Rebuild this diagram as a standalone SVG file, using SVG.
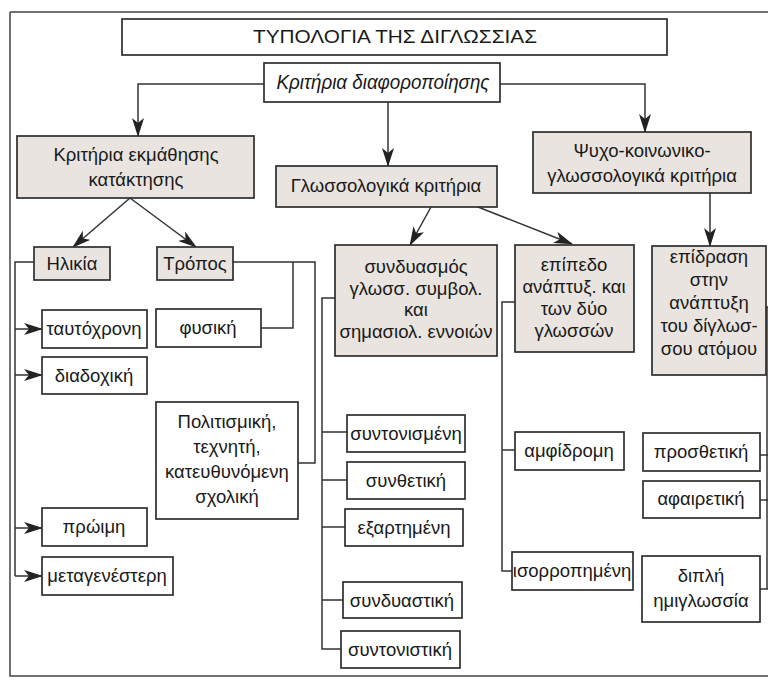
<svg xmlns="http://www.w3.org/2000/svg" width="768" height="690" viewBox="0 0 768 690">
<defs>
<marker id="ah" markerUnits="userSpaceOnUse" markerWidth="19" markerHeight="12" refX="18" refY="6" orient="auto">
<path d="M0,0 L19,6 L0,12 L5,6 Z" fill="#222"/>
</marker>
<style>
.bx{fill:#ffffff;stroke:#2e2e2e;stroke-width:1.7}
.sh{fill:#e9e4df;stroke:#2e2e2e;stroke-width:1.7}
.t{font-family:"Liberation Sans","DejaVu Sans",sans-serif;font-size:18.5px;fill:#1a1a1a;text-anchor:middle}
.ti{font-family:"Liberation Sans","DejaVu Sans",sans-serif;font-size:20px;fill:#1a1a1a;text-anchor:middle;font-style:italic}
.tt{font-family:"Liberation Sans","DejaVu Sans",sans-serif;font-size:19px;fill:#1a1a1a;text-anchor:middle}
.c{fill:none;stroke:#333;stroke-width:1.5}
.ca{fill:none;stroke:#333;stroke-width:1.5;marker-end:url(#ah)}
.fr{fill:none;stroke:#444;stroke-width:1.5}
</style>
</defs>
<rect width="768" height="690" fill="#ffffff"/>
<g id="frame">
<path class="fr" d="M10,12 H768 M10,12 V676 H768"/>
</g>
<g id="connectors">
<path class="ca" d="M264,84 H138 V136"/>
<path class="ca" d="M500,84 H645 V132"/>
<path class="ca" d="M388,102 V166"/>
<path class="ca" d="M130,198 L73,247"/>
<path class="ca" d="M130,198 L196,247"/>
<path class="ca" d="M431,207 L410,245"/>
<path class="ca" d="M473,205 L572,244"/>
<path class="ca" d="M710,193 V246"/>
<path class="c" d="M34,262 H15 V576"/>
<path class="ca" d="M15,329 H42"/>
<path class="ca" d="M15,375 H42"/>
<path class="ca" d="M15,528 H42"/>
<path class="ca" d="M15,576 H42"/>
<path class="c" d="M233,262 H315 V463 H298"/>
<path class="c" d="M293,262 V328 H261"/>
<path class="c" d="M335,298 H322 V649 H341"/>
<path class="c" d="M322,432 H347 M322,480 H347 M322,600 H343"/>
<path class="c" d="M322,527 H345" stroke="#999"/>
<path class="c" d="M515,302 H502 V571 H512"/>
<path class="c" d="M502,450 H515"/>
<path class="c" d="M766,307 H768 M760,455 H768 M760,500 H768 M760,589 H768"/>
<path class="c" d="M767,307 V589" stroke="#aaa" stroke-width="1"/>
</g>
<g id="title">
<rect class="bx" x="122" y="19" width="545" height="36"/>
<text class="tt" x="395" y="43" textLength="284" lengthAdjust="spacingAndGlyphs">ΤΥΠΟΛΟΓΙΑ ΤΗΣ ΔΙΓΛΩΣΣΙΑΣ</text>
</g>
<g id="kritiria-diaforopoiisis">
<rect class="bx" x="264" y="63" width="236" height="39"/>
<text class="ti" x="383" y="89" textLength="213" lengthAdjust="spacingAndGlyphs">Κριτήρια διαφοροποίησης</text>
</g>
<g id="kritiria-ekmathisis">
<rect class="sh" x="17" y="136" width="237" height="62"/>
<text class="t" x="136" y="161">Κριτήρια εκμάθησης</text>
<text class="t" x="136" y="186">κατάκτησης</text>
</g>
<g id="glossologika">
<rect class="sh" x="276" y="166" width="221" height="41"/>
<text class="t" x="386" y="192">Γλωσσολογικά κριτήρια</text>
</g>
<g id="psycho">
<rect class="sh" x="533" y="132" width="218" height="61"/>
<text class="t" x="642" y="157">Ψυχο-κοινωνικο-</text>
<text class="t" x="642" y="182">γλωσσολογικά κριτήρια</text>
</g>
<g id="ilikia">
<rect class="sh" x="34" y="247" width="76" height="33"/>
<text class="t" x="72" y="270">Ηλικία</text>
</g>
<g id="tropos">
<rect class="sh" x="157" y="247" width="76" height="33"/>
<text class="t" x="195" y="270">Τρόπος</text>
</g>
<g id="syndyasmos">
<rect class="sh" x="335" y="245" width="162" height="111"/>
<text class="t" x="416" y="273">συνδυασμός</text>
<text class="t" x="416" y="295">γλωσσ. συμβολ.</text>
<text class="t" x="416" y="316">και</text>
<text class="t" x="416" y="338">σημασιολ. εννοιών</text>
</g>
<g id="epipedo">
<rect class="sh" x="515" y="245" width="119" height="107"/>
<text class="t" x="574" y="271">επίπεδο</text>
<text class="t" x="574" y="293">ανάπτυξ. και</text>
<text class="t" x="574" y="315">των δύο</text>
<text class="t" x="574" y="337">γλωσσών</text>
</g>
<g id="epidrasi">
<rect class="sh" x="652" y="246" width="114" height="129"/>
<text class="t" x="709" y="263">επίδραση</text>
<text class="t" x="709" y="286">στην</text>
<text class="t" x="709" y="309">ανάπτυξη</text>
<text class="t" x="709" y="332">του δίγλωσ-</text>
<text class="t" x="709" y="355">σου ατόμου</text>
</g>
<g id="taftoxroni">
<rect class="bx" x="42" y="310" width="105" height="38"/>
<text class="t" x="94" y="335">ταυτόχρονη</text>
</g>
<g id="diadoxiki">
<rect class="bx" x="42" y="357" width="105" height="37"/>
<text class="t" x="94" y="382">διαδοχική</text>
</g>
<g id="fysiki">
<rect class="bx" x="156" y="309" width="105" height="38"/>
<text class="t" x="208" y="334">φυσική</text>
</g>
<g id="politismiki">
<rect class="bx" x="156" y="402" width="142" height="117"/>
<text class="t" x="227" y="428">Πολιτισμική,</text>
<text class="t" x="227" y="453">τεχνητή,</text>
<text class="t" x="227" y="478">κατευθυνόμενη</text>
<text class="t" x="227" y="503">σχολική</text>
</g>
<g id="proimi">
<rect class="bx" x="42" y="508" width="105" height="38"/>
<text class="t" x="94" y="533">πρώιμη</text>
</g>
<g id="metagenesteri">
<rect class="bx" x="42" y="557" width="131" height="38"/>
<text class="t" x="107" y="582">μεταγενέστερη</text>
</g>
<g id="syntonismeni">
<rect class="bx" x="347" y="415" width="118" height="37"/>
<text class="t" x="406" y="440">συντονισμένη</text>
</g>
<g id="synthetiki">
<rect class="bx" x="347" y="462" width="118" height="37"/>
<text class="t" x="406" y="487">συνθετική</text>
</g>
<g id="exartimeni">
<rect class="bx" x="345" y="509" width="118" height="37"/>
<text class="t" x="404" y="534">εξαρτημένη</text>
</g>
<g id="syndyastiki">
<rect class="bx" x="343" y="582" width="119" height="36"/>
<text class="t" x="402" y="607">συνδυαστική</text>
</g>
<g id="syntonistiki">
<rect class="bx" x="341" y="631" width="119" height="37"/>
<text class="t" x="400" y="656">συντονιστική</text>
</g>
<g id="amfidromi">
<rect class="bx" x="515" y="432" width="109" height="38"/>
<text class="t" x="569" y="457">αμφίδρομη</text>
</g>
<g id="isorropimeni">
<rect class="bx" x="512" y="552" width="121" height="38"/>
<text class="t" x="572" y="577">ισορροπημένη</text>
</g>
<g id="prosthetiki">
<rect class="bx" x="643" y="433" width="117" height="38"/>
<text class="t" x="701" y="458">προσθετική</text>
</g>
<g id="afairetiki">
<rect class="bx" x="643" y="481" width="117" height="37"/>
<text class="t" x="701" y="505">αφαιρετική</text>
</g>
<g id="dipli">
<rect class="bx" x="642" y="556" width="118" height="66"/>
<text class="t" x="701" y="582">διπλή</text>
<text class="t" x="701" y="607">ημιγλωσσία</text>
</g>
</svg>
